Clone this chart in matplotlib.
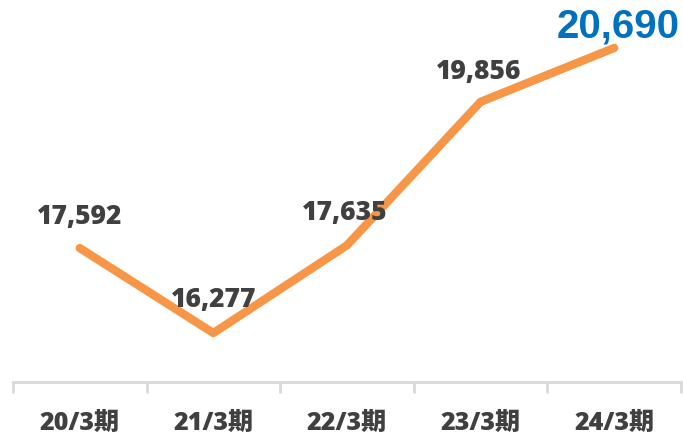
import matplotlib.pyplot as plt
import numpy as np

plt.rcParams['font.family'] = ['Open Sans', 'Noto Sans CJK JP', 'DejaVu Sans']

periods = ["20/3期", "21/3期", "22/3期", "23/3期", "24/3期"]
values = [17592, 16277, 17635, 19856, 20690]

x = np.arange(len(periods))

fig = plt.figure(figsize=(6.83, 4.39), dpi=100)
ax = fig.add_axes([0.019, 0.1276, 0.978, 0.8724])

ax.plot(x, values, color="#F79646", linewidth=6, solid_capstyle="round",
        solid_joinstyle="round")

ax.set_xlim(-0.5, 4.5)
ax.set_ylim(15519, 21448)

# data labels
offsets = [(0, 32), (0, 34), (-2, 33), (-2, 31)]
for i, v in enumerate(values[:-1]):
    ax.annotate(f"{v:,}", (x[i], v), xytext=offsets[i], textcoords="offset pixels",
                ha="center", va="center", fontsize=19, fontweight="heavy",
                color="#404040")
ax.annotate(f"{values[-1]:,}", (x[-1], values[-1]), xytext=(4, 22),
            textcoords="offset pixels", ha="center", va="center",
            fontsize=29, fontweight="bold", color="#0070C0",
            family=["Liberation Sans", "DejaVu Sans"])

for s in ["top", "right", "left"]:
    ax.spines[s].set_visible(False)
ax.spines["bottom"].set_color("#D9D9D9")
ax.spines["bottom"].set_linewidth(2)

ax.set_yticks([])
ax.set_xticks(x)
ax.set_xticklabels(periods, fontsize=18, fontweight="heavy", color="#404040")
ax.tick_params(axis="x", which="major", length=0, pad=20)
ax.set_xticks(np.arange(-0.5, 5, 1), minor=True)
ax.tick_params(axis="x", which="minor", length=8, width=2, color="#D9D9D9")

fig.savefig("out.png", dpi=100)
